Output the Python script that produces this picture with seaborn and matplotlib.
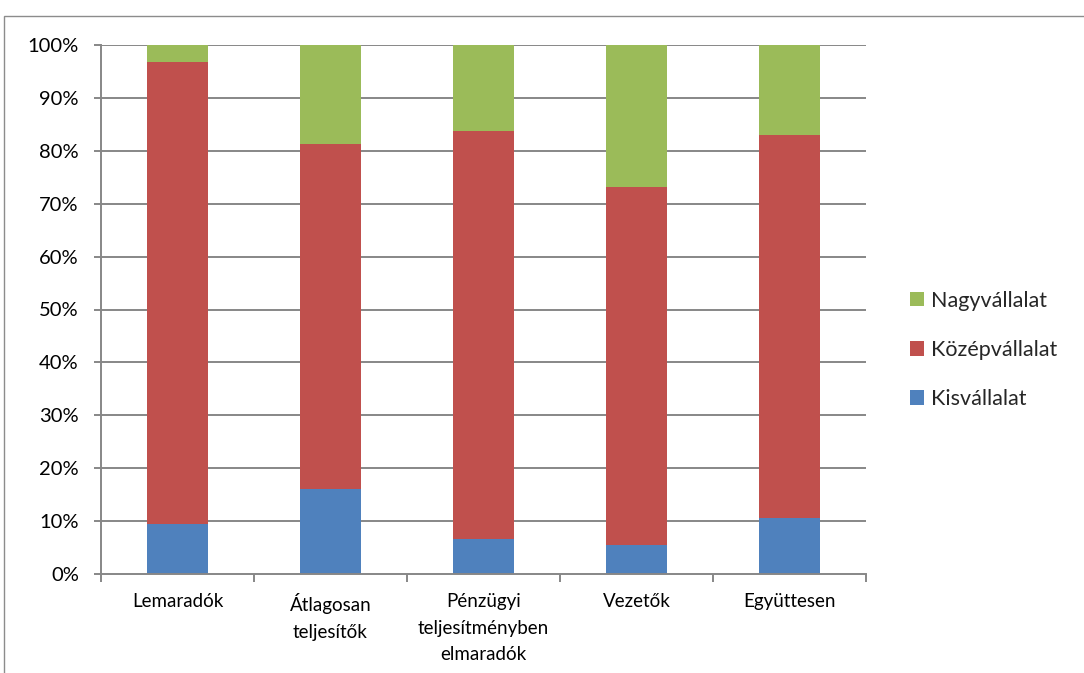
import matplotlib
matplotlib.use("Agg")
import matplotlib.pyplot as plt
import seaborn as sns
import numpy as np
import pandas as pd
from matplotlib.patches import Rectangle
from matplotlib.ticker import FixedLocator, PercentFormatter

categories = ["Lemaradók", "Átlagosan\nteljesítők", "Pénzügyi\nteljesítményben\nelmaradók",
              "Vezetők", "Együttesen"]
kisvallalat = [9.4, 16.0, 6.6, 5.4, 10.6]
kozepvallalat = [87.4, 65.3, 77.2, 67.8, 72.3]
nagyvallalat = [3.2, 18.7, 16.2, 26.8, 17.1]

colors = {"Kisvállalat": "#4F81BD", "Középvállalat": "#C0504D", "Nagyvállalat": "#9BBB59"}

df = pd.DataFrame({"cat": categories, "Kisvállalat": kisvallalat,
                   "Középvállalat": kozepvallalat, "Nagyvállalat": nagyvallalat})
# cumulative tops for stacking
df["top_kis"] = df["Kisvállalat"]
df["top_kozep"] = df["top_kis"] + df["Középvállalat"]
df["top_nagy"] = df["top_kozep"] + df["Nagyvállalat"]

sns.set_theme(style="white")
plt.rcParams["font.family"] = ["Lato", "DejaVu Sans"]

fig = plt.figure(figsize=(10.84, 6.73), dpi=100)
ax = fig.add_axes([101 / 1084, (673 - 574) / 673, (866 - 101) / 1084, (574 - 45) / 673])

grid_col = "#878787"
for y in range(10, 101, 10):
    ax.axhline(y, color=grid_col, lw=1.4, zorder=0)

for col, name in [("top_nagy", "Nagyvállalat"), ("top_kozep", "Középvállalat"), ("top_kis", "Kisvállalat")]:
    sns.barplot(data=df, x="cat", y=col, color=colors[name], width=0.4,
                saturation=1, linewidth=0, ax=ax, zorder=2, label=name)

ax.set_ylim(0, 100)
ax.set_xlim(-0.5, 4.5)
ax.set_xlabel("")
ax.set_ylabel("")
ax.set_yticks(np.arange(0, 101, 10))
ax.yaxis.set_major_formatter(PercentFormatter(decimals=0))
for s in ["top", "right"]:
    ax.spines[s].set_visible(False)
ax.spines["left"].set_color(grid_col)
ax.spines["left"].set_linewidth(1.4)
ax.spines["bottom"].set_color(grid_col)
ax.spines["bottom"].set_linewidth(1.4)

ax.tick_params(axis="y", which="major", direction="out", length=5, width=1.4,
               color=grid_col, pad=11, labelsize=14.5, left=True, labelcolor="black")
ax.xaxis.set_minor_locator(FixedLocator(np.arange(-0.5, 5, 1)))
ax.tick_params(axis="x", which="minor", direction="out", length=6, width=1.4,
               color=grid_col, bottom=True)
ax.tick_params(axis="x", which="major", length=0, pad=14, labelsize=13.5, labelcolor="black")
for lbl in ax.get_xticklabels():
    lbl.set_linespacing(1.65)
    lbl.set_verticalalignment("top")

handles, labels = ax.get_legend_handles_labels()
leg = ax.legend(handles, labels, loc="center left", bbox_to_anchor=(1.032, 0.424),
                frameon=False, fontsize=15.5, handlelength=0.68, handleheight=0.68,
                handletextpad=0.3, labelspacing=1.35)

fig.patches.append(Rectangle((4 / 1084, -0.1), 1.2, 1 - 16 / 673 + 0.1,
                             transform=fig.transFigure, fill=False,
                             edgecolor="#8c8c8c", lw=1.0))

fig.savefig("out.png", dpi=100)
